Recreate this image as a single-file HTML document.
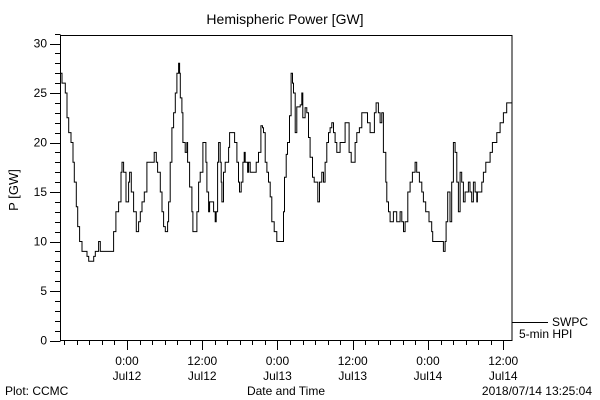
<!DOCTYPE html>
<html><head><meta charset="utf-8"><style>
html,body{margin:0;padding:0;background:#fff;}
svg{display:block;font-family:"Liberation Sans",sans-serif;}
</style></head><body>
<svg id="chart" width="600" height="400" viewBox="0 0 600 400" xmlns="http://www.w3.org/2000/svg">
<text x="285" y="24" font-size="14" text-anchor="middle">Hemispheric Power [GW]</text>
<text x="0" y="0" font-size="13" text-anchor="middle" transform="translate(18,190) rotate(-90)">P [GW]</text>
<text x="286" y="395" font-size="12" text-anchor="middle">Date and Time</text>
<text x="5" y="395" font-size="12">Plot: CCMC</text>
<text x="592" y="395" font-size="12" text-anchor="end">2018/07/14 13:25:04</text>
<rect x="60.5" y="35.5" width="451.5" height="305" fill="none" stroke="#000" stroke-width="1"/>
<g id="axes"></g>
<path id="series" fill="none" stroke="#000" stroke-width="1"/>
<line x1="512" y1="322.5" x2="548" y2="322.5" stroke="#000"/>
<text x="552" y="326" font-size="12">SWPC</text>
<text x="519" y="338" font-size="12">5-min HPI</text>
</svg>
<script>
// hours relative to 2018-07-12 00:00
const hours=[-10.57,-10.36,-9.83,-9.56,-9.30,-8.93,-8.61,-8.40,-8.08,-7.86,-7.55,-7.17,-6.38,-6.11,-5.31,-5.05,-4.52,-4.25,-2.39,-2.13,-1.76,-1.33,-0.96,-0.80,-0.53,-0.16,0.26,0.42,0.69,1.06,1.48,1.86,2.12,2.39,2.76,3.18,3.98,4.35,4.67,4.88,5.31,5.58,5.84,6.11,6.48,6.64,6.90,7.17,7.43,7.70,7.97,8.23,8.39,8.50,8.76,8.92,9.13,9.29,9.56,9.67,9.98,10.36,10.52,10.89,11.15,11.42,11.68,12.11,12.48,12.59,12.75,13.01,13.17,13.65,13.81,14.07,14.23,14.45,14.61,14.87,15.03,15.14,15.40,15.67,16.20,16.36,16.89,17.16,17.53,17.79,17.95,18.22,18.48,18.70,18.86,19.23,19.39,19.65,20.29,20.61,20.98,21.25,21.35,21.62,21.78,22.04,22.31,22.57,22.84,23.10,23.48,23.90,24.43,24.96,25.12,25.39,25.60,25.92,26.18,26.40,26.55,26.82,27.09,27.62,27.88,28.04,28.41,28.68,28.95,29.21,29.58,29.85,30.27,30.43,30.70,31.07,31.34,31.60,31.87,32.13,32.40,32.66,32.93,33.19,33.46,33.99,34.52,34.79,35.21,35.43,35.75,36.12,36.38,36.65,37.07,37.44,37.98,38.35,38.77,39.14,39.46,39.73,40.10,40.37,40.63,40.90,41.27,41.43,41.70,41.96,42.49,42.76,43.02,43.55,43.82,44.09,44.35,44.78,45.15,45.52,45.94,46.21,46.63,47.01,47.27,47.64,48.17,48.60,48.76,50.19,50.46,50.73,50.89,51.15,51.52,51.79,52.06,52.32,52.59,52.85,53.12,53.38,53.65,53.92,54.45,54.71,54.98,55.25,55.51,55.78,55.88,56.31,56.58,56.84,57.22,57.64,57.91,58.28,58.71,58.97,59.50,60.03,60.56,61.25,61.40];
const power=[27,26,25,22.5,21,20,18,16,13.5,11.5,10,9,8.5,8,8.5,9,10,9,9,11,13,14,17,18,17,14,16,17,15,13,11,12,13,14,15,18,18,19,18,17,15,13,11.5,11,12,14,18,21.5,23,25,27,28,27,24.5,23,20,20,19,20,18,15.5,13,11,11,13,16,17,20,20,18,15,13,14,14,13,12,13,18,20,18,16,14,17,18,19.5,21,21,20,18,16,15,16,18,19,18,17,18,17,17,18,19,19,21.7,21.5,21,18,17,16,14.5,12,11,10,10,13,16.5,18.8,20,22.7,27,26,25,21,23.6,23.8,25,22.5,23.5,23,20.5,18.5,16.5,16,16,14,16,17,16,18,20,21,21.5,22,21,20,19,20,20,22,22,19,18,18,20,21,21.5,23,23,22,21,21,23,24,23,22,23,19,16,14,13,12,13,13,12,13,12,11,12,15,16,17,18,17,16,15,14,13,12,11,10,10,9,10,12,15,12,16,20,19,16,13,17,16,14,15,16,15,14,16,15,14,15,15,16,17,18,18,19,20,20,21,22,23,24,24,23.5];
const yTicks=[0,5,10,15,20,25,30];
const xTickHours=[0,12,24,36,48,60];
const xTickTimes=["0:00","12:00","0:00","12:00","0:00","12:00"];
const xTickDays=["Jul12","Jul12","Jul13","Jul13","Jul14","Jul14"];
const X0=-10.6,X1=61.4,PX0=60.5,PX1=512;
const PY0=340.5,YSCALE=9.9;
function xs(h){return PX0+(h-X0)/(X1-X0)*(PX1-PX0);}
function ys(v){return PY0-v*YSCALE;}
const NS="http://www.w3.org/2000/svg";
const g=document.getElementById('axes');
function ln(x1,y1,x2,y2,name){const l=document.createElementNS(NS,'line');
l.setAttribute('x1',x1);l.setAttribute('y1',y1);l.setAttribute('x2',x2);l.setAttribute('y2',y2);l.setAttribute('stroke','#000');


g.appendChild(l);}
function tx(x,y,s,anchor,name){const t=document.createElementNS(NS,'text');
t.setAttribute('x',x);t.setAttribute('y',y);t.setAttribute('font-size','12');t.setAttribute('text-anchor',anchor);t.textContent=s;


g.appendChild(t);}
for(let v=0;v<=31;v++){const y=Math.round(ys(v))+0.5;const major=v%5===0;ln(major?50:55,y,60.5,y,major?'y-major-tick':'y-minor-tick');}
yTicks.forEach(v=>tx(47,ys(v)+4,String(v),'end','y-tick-label'));
for(let h=-10;h<=61;h+=2){const x=Math.round(xs(h))+0.5;const major=h%12===0;ln(x,340.5,x,major?350:345,major?'x-major-tick':'x-minor-tick');}
xTickHours.forEach((h,i)=>{tx(xs(h),365,xTickTimes[i],'middle','x-tick-time');tx(xs(h),380,xTickDays[i],'middle','x-tick-date');});
ln(512,322.5,518,322.5,'right-axis-tick');
let d='M'+xs(hours[0]).toFixed(1)+','+ys(power[0]).toFixed(1);
for(let i=1;i<hours.length;i++){d+=' H'+xs(hours[i]).toFixed(1)+' V'+ys(power[i]).toFixed(1);}
document.getElementById('series').setAttribute('d',d);
</script>
</body></html>
